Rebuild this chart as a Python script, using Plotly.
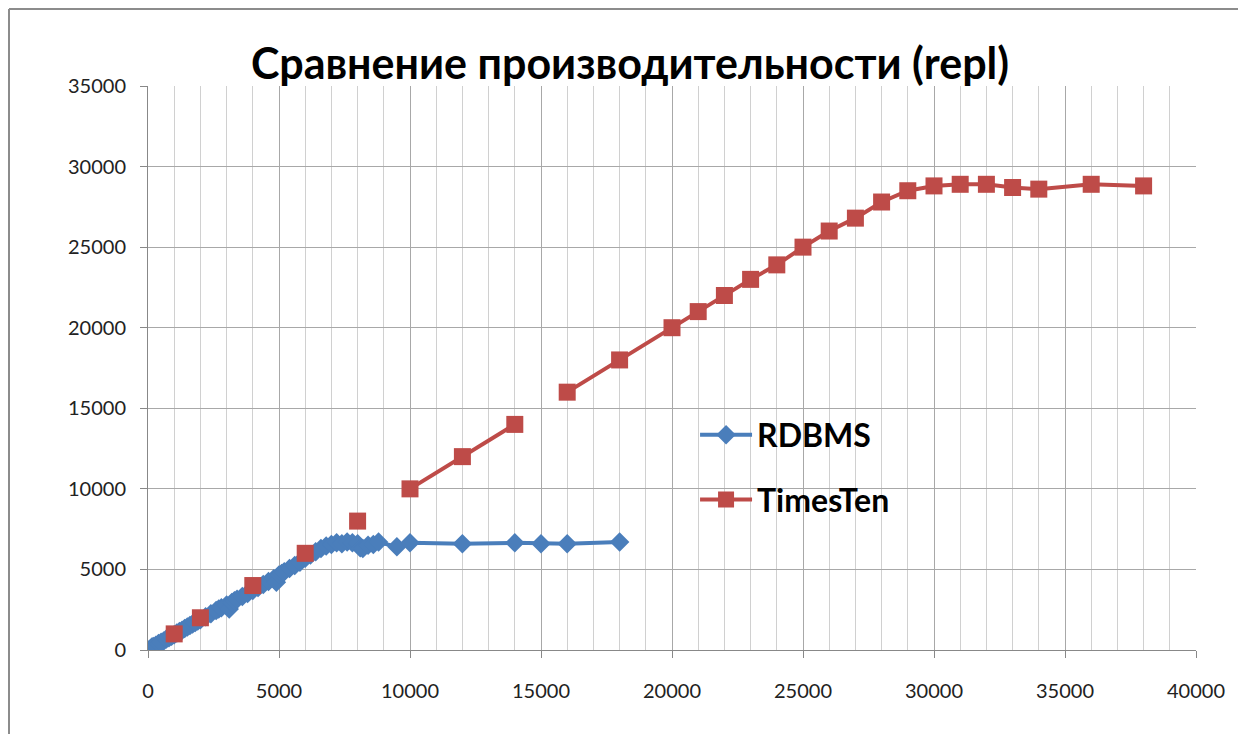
import plotly.graph_objects as go

title_text = "Сравнение производительности (repl)"

rdbms_x = [0, 100, 150, 200, 300, 400, 500, 600, 700, 800, 900, 1000, 1100, 1200, 1300, 1400,
           1500, 1600, 1700, 1800, 1900, 2000, 2200, 2400, 2600, 2700, 2800, 3000, 3100, 3200,
           3300, 3400, 3600, 3800, 4000, 4200, 4400, 4600, 4800, 4900, 5000, 5100, 5200, 5400,
           5600, 5800, 6000, 6200, 6400, 6600, 6800, 7000, 7200, 7400, 7600, 7800, 8000, 8100,
           8200, 8400, 8600, 8800, 9500, 10000, 12000, 14000, 15000, 16000, 18000]
rdbms_y = [0, 100, 180, 210, 290, 400, 480, 560, 680, 760, 850, 950, 1050, 1150, 1230, 1330,
           1420, 1520, 1610, 1700, 1800, 1880, 2070, 2250, 2450, 2550, 2620, 2800, 2550, 2950,
           3050, 3150, 3320, 3500, 3700, 3880, 4060, 4250, 4420, 4200, 4650, 4750, 4850, 5050,
           5250, 5450, 5700, 5900, 6100, 6300, 6450, 6550, 6650, 6600, 6700, 6650, 6600, 6350,
           6300, 6500, 6550, 6700, 6400, 6650, 6600, 6650, 6600, 6600, 6700]

tt_x = [1000, 1500, 2000, 3000, 4000, 5000, 6000, 7000, 8000, 9000, 10000, 12000, 14000, 15000,
        16000, 18000, 20000, 21000, 22000, 23000, 24000, 25000, 26000, 27000, 28000, 29000,
        30000, 31000, 32000, 33000, 34000, 36000, 38000]
tt_y = [1000, None, 2000, None, 4000, None, 6000, None, 8000, None, 10000, 12000, 14000, None,
        16000, 18000, 20000, 21000, 22000, 23000, 23900, 25000, 26000, 26800, 27800, 28500,
        28800, 28900, 28900, 28700, 28600, 28900, 28800]

x_ticks = [0, 5000, 10000, 15000, 20000, 25000, 30000, 35000, 40000]
y_ticks = [0, 5000, 10000, 15000, 20000, 25000, 30000, 35000]

BLUE = "#4A7EBB"
RED = "#BE4B48"

fig = go.Figure()
fig.add_trace(go.Scatter(
    x=rdbms_x, y=rdbms_y, name="<b>RDBMS</b>", mode="lines+markers",
    line=dict(color=BLUE, width=4),
    marker=dict(symbol="diamond", size=15, color=BLUE),
    legendgroup="a",
))
fig.add_trace(go.Scatter(
    x=tt_x, y=tt_y, name="<b>TimesTen</b>", mode="lines+markers",
    line=dict(color=RED, width=4),
    marker=dict(symbol="square", size=17, color=RED),
    connectgaps=False, legendgroup="b",
))

fig.update_layout(
    width=1239, height=735,
    margin=dict(l=148, r=43, t=86, b=85),
    paper_bgcolor="white", plot_bgcolor="white",
    font=dict(family="Lato, 'Open Sans', sans-serif", color="#222"),
    title=dict(text="<b>" + title_text + "</b>", x=630 / 1239, xanchor="center",
               y=1 - 64 / 735, yanchor="middle",
               font=dict(size=43, color="black", family="Lato, sans-serif")),
    showlegend=True,
    legend=dict(x=0.522, y=0.43, xanchor="left", yanchor="top",
                bgcolor="rgba(0,0,0,0)", font=dict(size=32, color="black"),
                itemwidth=52, tracegroupgap=20),
)
fig.update_xaxes(
    range=[0, 40000], tickvals=x_ticks, ticktext=[str(v) for v in x_ticks],
    showgrid=True, gridcolor="#a8a8a8", gridwidth=1,
    minor=dict(dtick=1000, showgrid=True, gridcolor="#d0d0d0", gridwidth=1),
    showline=True, linecolor="#888", linewidth=1,
    ticks="outside", ticklen=7, tickcolor="#888",
    tickfont=dict(size=20, color="#222"), ticklabelstandoff=16,
    zeroline=False, mirror=False,
)
fig.update_yaxes(
    range=[0, 35000], tickvals=y_ticks, ticktext=[str(v) for v in y_ticks],
    showgrid=True, gridcolor="#a8a8a8", gridwidth=1,
    showline=True, linecolor="#888", linewidth=1,
    ticks="outside", ticklen=7, tickcolor="#888",
    tickfont=dict(size=20, color="#222"), ticklabelstandoff=10,
    zeroline=False,
)
# outer chart frame (left and top edges visible), kept inside the figure bounds
frame_left = (9 - 148) / 1048
frame_right = (1238 - 148) / 1048
frame_top = (650 - 9) / 564
frame_bottom = (650 - 734) / 564
fig.add_shape(type="line", xref="paper", yref="paper",
              x0=frame_left, x1=frame_right, y0=frame_top, y1=frame_top,
              line=dict(color="#8c8c8c", width=2))
fig.add_shape(type="line", xref="paper", yref="paper",
              x0=frame_left, x1=frame_left, y0=frame_top, y1=frame_bottom,
              line=dict(color="#8c8c8c", width=2))

fig.write_html(
    "out.html",
    config={"displayModeBar": False},
    post_script=(
        "document.documentElement.style.overflow='hidden';"
        "document.body.style.margin='0';"
        "document.body.style.overflow='hidden';"
    ),
)
